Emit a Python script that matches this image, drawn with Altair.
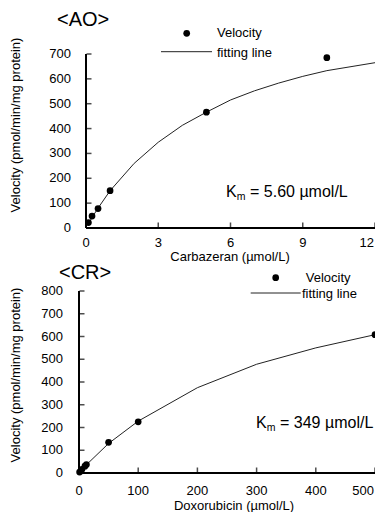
import altair as alt
import pandas as pd

FONT = "Liberation Sans"

# ---- <AO> panel data (Carbazeran) ----
ao_conc = [0.1, 0.25, 0.5, 1, 5, 10]
ao_vel = [22, 48, 78, 150, 466, 685]
ao_fit_x = [0.1, 0.25, 0.5, 1, 2, 3, 4, 5, 6, 7, 8, 9, 10, 12]
ao_fit_y = [17, 42, 80, 150, 260, 345, 413, 466, 515, 552, 583, 610, 633, 665]
ao_xticks = [0, 3, 6, 9, 12]
ao_yticks = [0, 100, 200, 300, 400, 500, 600, 700]

# ---- <CR> panel data (Doxorubicin) ----
cr_conc = [1, 5, 10, 12.5, 50, 100, 500]
cr_vel = [4, 16, 30, 37, 135, 225, 608]
cr_fit_x = [1, 5, 10, 12.5, 50, 100, 200, 300, 400, 500]
cr_fit_y = [3, 15, 29, 36, 130, 228, 375, 478, 550, 608]
cr_xticks = [0, 100, 200, 300, 400, 500]
cr_yticks = [0, 100, 200, 300, 400, 500, 600, 700, 800]

one = pd.DataFrame({"k": [0]})


def txt(s, x, y, size, **kw):
    props = dict(text=s, font=FONT, fontSize=size, align="left",
                 baseline="middle", color="black")
    props.update(kw)
    return alt.Chart(one).mark_text(**props).encode(x=alt.value(x), y=alt.value(y))


def panel(conc, vel, fx, fy, xt, yt, xdom, ydom, xrange, width, height,
          xtitle, xtitle_xy, ytitle_xy, xlab_dy, ylab_dx,
          title, title_xy, leg, km, km_xy):
    xs = alt.Scale(domain=xdom, range=xrange, nice=False, zero=False)
    ys = alt.Scale(domain=ydom, nice=False, zero=False)
    X = lambda f="x": alt.X(f"{f}:Q", scale=xs, axis=None)
    Y = lambda f="y": alt.Y(f"{f}:Q", scale=ys, axis=None)

    # axis lines (from the domains)
    yline = alt.Chart(pd.DataFrame({"x": [xdom[0]], "y": [ydom[0]], "y2": [ydom[1]]})).mark_rule(
        color="black", strokeWidth=2).encode(x=X(), y=Y(), y2="y2:Q")
    xline = alt.Chart(pd.DataFrame({"x": [xdom[0]], "x2": [xdom[1]], "y": [ydom[0]]})).mark_rule(
        color="black", strokeWidth=2).encode(x=X(), x2="x2:Q", y=Y())

    ydf = pd.DataFrame({"x": [xdom[0]] * len(yt), "y": yt})
    xdf = pd.DataFrame({"x": xt, "y": [ydom[0]] * len(xt)})
    ytick = alt.Chart(ydf).mark_tick(orient="horizontal", size=5, thickness=1.5,
                                     color="black", xOffset=3).encode(x=X(), y=Y())
    xtick = alt.Chart(xdf).mark_tick(orient="vertical", size=5, thickness=1.5,
                                     color="black", yOffset=-3).encode(x=X(), y=Y())
    ylab = alt.Chart(ydf).mark_text(font=FONT, fontSize=13, color="black", align="right",
                                    baseline="middle", dx=ylab_dx).encode(
        x=X(), y=Y(), text=alt.Text("y:Q"))
    xlab = alt.Chart(xdf.iloc[:-1]).mark_text(font=FONT, fontSize=13, color="black",
                                              align="center", baseline="middle",
                                              dy=xlab_dy).encode(
        x=X(), y=Y(), text=alt.Text("x:Q"))
    # last tick label sits at the right edge: keep it whole
    xlab_last = alt.Chart(xdf.iloc[-1:]).mark_text(font=FONT, fontSize=13, color="black",
                                                   align="right", baseline="middle",
                                                   dy=xlab_dy, dx=-1).encode(
        x=X(), y=Y(), text=alt.Text("x:Q"))

    fit = alt.Chart(pd.DataFrame({"x": fx, "y": fy})).mark_line(
        color="#222", strokeWidth=1).encode(x=X(), y=Y())
    pts = alt.Chart(pd.DataFrame({"x": conc, "y": vel})).mark_circle(
        color="black", size=45, opacity=1).encode(x=X(), y=Y())

    dx, dy, vx, fxl, l1, l2, ly = leg
    legend = [
        alt.Chart(one).mark_circle(color="black", size=45, opacity=1).encode(
            x=alt.value(dx), y=alt.value(dy)),
        txt("Velocity", vx, dy, 13),
        txt("fitting line", fxl, ly + 1, 13),
        alt.Chart(one).mark_rule(color="#222", strokeWidth=1).encode(
            x=alt.value(l1), x2=alt.value(l2), y=alt.value(ly)),
    ]
    kx, ky = km_xy
    kmt = [
        txt("K", kx, ky, 16),
        txt("m", kx + 10.7, ky + 5, 10.5),
        txt("= " + km, kx + 24, ky, 16),
    ]
    titles = [
        txt(title, title_xy[0], title_xy[1], 20),
        txt(xtitle, xtitle_xy[0], xtitle_xy[1], 13, align="center"),
        txt("Velocity (pmol/min/mg protein)", ytitle_xy[0], ytitle_xy[1], 13,
            align="center", angle=270),
    ]
    return alt.layer(yline, xline, ytick, xtick, ylab, xlab, xlab_last, fit, pts,
                     *legend, *kmt, *titles).properties(width=width, height=height)


top = panel(ao_conc, ao_vel, ao_fit_x, ao_fit_y, ao_xticks, ao_yticks,
            [0, 12], [0, 700], [7, 296], 296, 174,
            "Carbazeran (µmol/L)", (151, 203), (-63, 71), 15, -15,
            "<AO>", (-22, -34),
            (107.7, -20.7, 138, 138, 82, 133, -2.3),
            "5.60 µmol/L", (147, 138))

bottom = panel(cr_conc, cr_vel, cr_fit_x, cr_fit_y, cr_xticks, cr_yticks,
               [0, 500], [0, 800], [0, 296], 296, 182,
               "Doxorubicin (µmol/L)", (155, 215), (-63, 84), 18, -16,
               "<CR>", (-20, -18),
               (196.7, -13.3, 226.7, 223, 171.7, 221.7, 2),
               "349 µmol/L", (177, 132))

chart = alt.vconcat(top, bottom, spacing=63, bounds="flush").properties(
    padding={"left": 2, "top": 2, "right": -4, "bottom": 0},
    background="white",
).configure_view(stroke=None)

chart.save("out.html", embed_options={"renderer": "svg", "actions": False})
